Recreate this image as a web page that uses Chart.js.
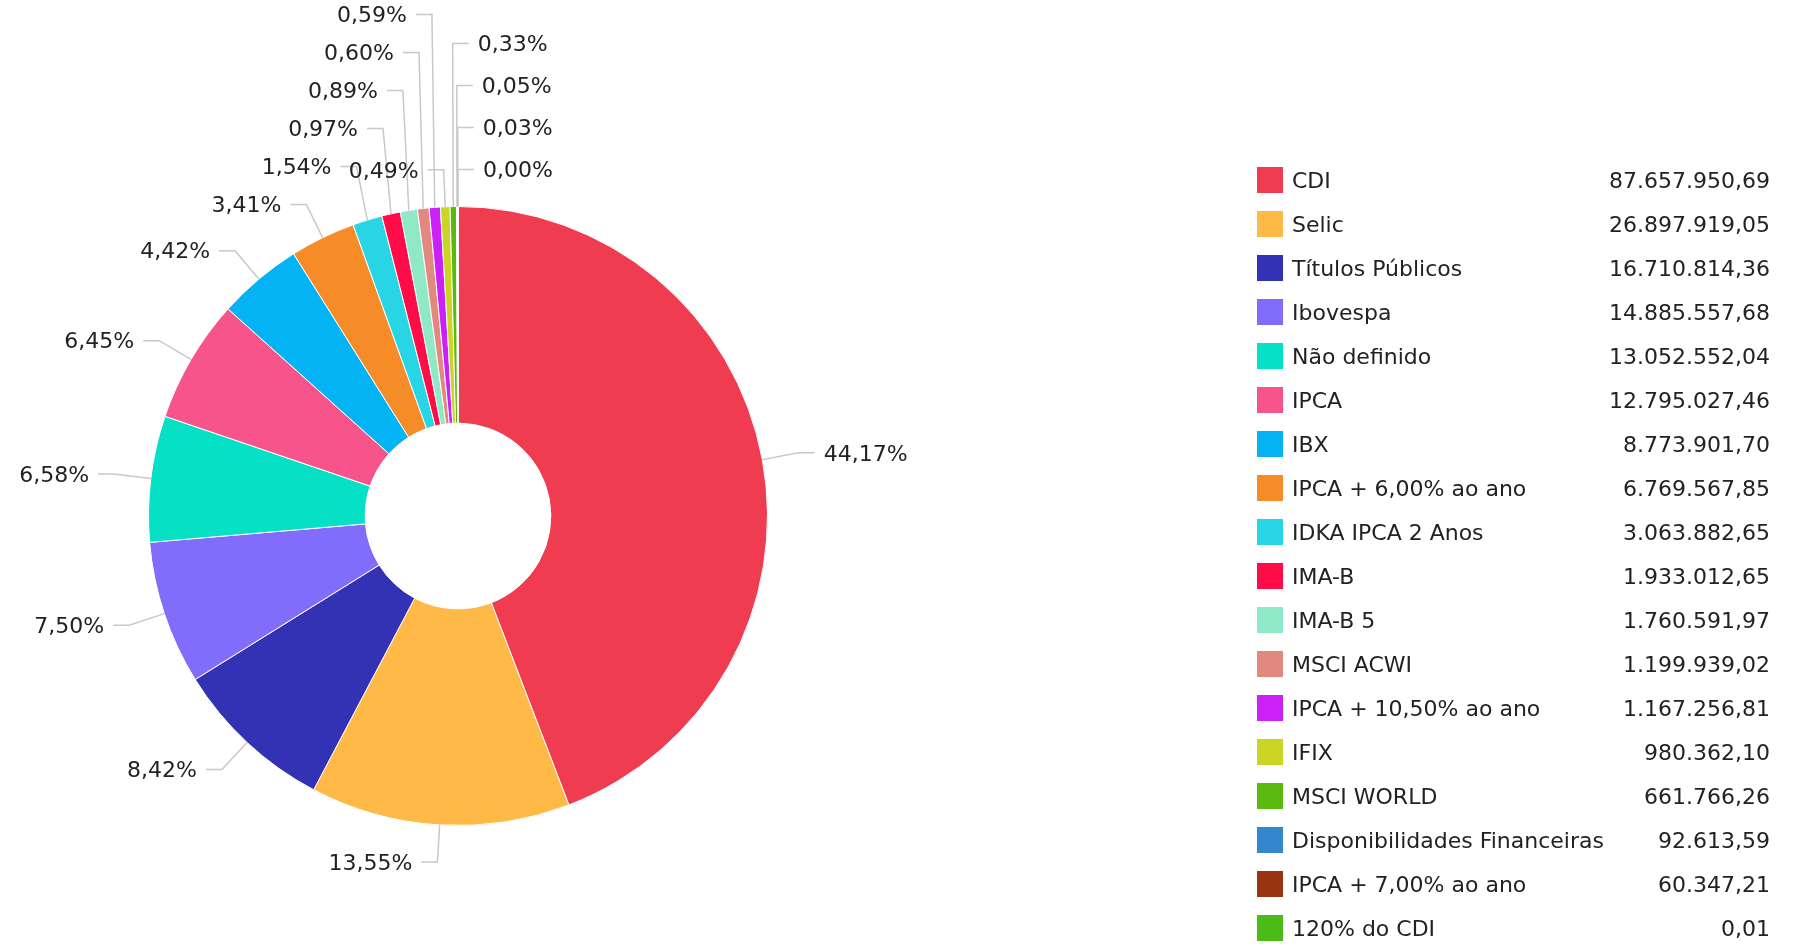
<!DOCTYPE html>
<html>
<head>
<meta charset="utf-8">
<script src="https://cdn.jsdelivr.net/npm/chart.js@4"></script>
<style>
    html, body { margin: 0; padding: 0; background: #fff; overflow: hidden; }
    #wrap { position: relative; width: 1799px; height: 944px; }
    #legend { position: absolute; left: 1257px; top: 158px; width: 513px; font: 22px "DejaVu Sans", Verdana, sans-serif; color: #222; }
    .row { display: flex; align-items: center; height: 44px; }
    .box { width: 26px; height: 26px; margin-right: 9px; flex: none; }
    .name { flex: 1; white-space: nowrap; }
    .val { text-align: right; white-space: nowrap; }
</style>
</head>
<body>
<div id="wrap">
    <canvas id="allocChart"></canvas>
    <div id="legend"></div>
</div>
<script>
const categories = ['CDI', 'Selic', 'Títulos Públicos', 'Ibovespa', 'Não definido', 'IPCA', 'IBX',
    'IPCA + 6,00% ao ano', 'IDKA IPCA 2 Anos', 'IMA-B', 'IMA-B 5', 'MSCI ACWI', 'IPCA + 10,50% ao ano',
    'IFIX', 'MSCI WORLD', 'Disponibilidades Financeiras', 'IPCA + 7,00% ao ano', '120% do CDI'];
const values = [87657950.69, 26897919.05, 16710814.36, 14885557.68, 13052552.04, 12795027.46, 8773901.70,
    6769567.85, 3063882.65, 1933012.65, 1760591.97, 1199939.02, 1167256.81,
    980362.10, 661766.26, 92613.59, 60347.21, 0.01];
const colors = ['#ef3c51', '#ffb946', '#3332b4', '#826cfb', '#06e1c5', '#f7548b', '#03b3f4',
    '#f58c27', '#27d5e5', '#ff0c49', '#8fe9c6', '#e3887f', '#cb20f6',
    '#cbd526', '#5bb90f', '#3387cd', '#98340f', '#4dbb17'];

const LEADER = 37, TICK = 16, GAP = 9, SIDE_TOL = 8, PAD = 8;
const ROW_LEFT = 38, ROW_RIGHT = 42;
const FONT = '22px "DejaVu Sans", Verdana, sans-serif';

function fmtPct(p) {
    return p.toFixed(2).replace('.', ',') + '%';
}

function fmtMoney(v) {
    const parts = v.toFixed(2).split('.');
    return parts[0].replace(/\B(?=(\d{3})+(?!\d))/g, '.') + ',' + parts[1];
}

// percentage labels outside the ring, stacked when they collide
const outsideLabels = {
    id: 'outsideLabels',
    afterDatasetsDraw(chart) {
        const ctx = chart.ctx;
        const arcs = chart.getDatasetMeta(0).data;
        const data = chart.data.datasets[0].data;
        const total = data.reduce((a, b) => a + b, 0);
        ctx.save();
        ctx.font = FONT;

        const items = arcs.map((arc, i) => {
            const p = arc.getProps(['x', 'y', 'startAngle', 'endAngle', 'outerRadius'], true);
            const mid = (p.startAngle + p.endAngle) / 2;
            const cos = Math.cos(mid), sin = Math.sin(mid);
            const ex = p.x + cos * (p.outerRadius + LEADER);
            const text = fmtPct(data[i] / total * 100);
            return {
                cy: p.y,
                ax: p.x + cos * p.outerRadius,
                ay: p.y + sin * p.outerRadius,
                ex: ex,
                ey: p.y + sin * (p.outerRadius + LEADER),
                right: ex >= p.x - SIDE_TOL,
                text: text,
                w: ctx.measureText(text).width
            };
        });

        const placed = [];
        const left = items.filter(it => !it.right);
        const right = items.filter(it => it.right).reverse();
        left.concat(right).forEach(it => {
            const row = it.right ? ROW_RIGHT : ROW_LEFT;
            it.x0 = it.right ? it.ex + TICK + GAP : it.ex - TICK - GAP - it.w;
            it.x1 = it.x0 + it.w;
            let moved = true;
            while (moved) {
                moved = false;
                placed.forEach(p => {
                    if (p.x0 - PAD < it.x1 && it.x0 < p.x1 + PAD && Math.abs(p.ey - it.ey) < row - 0.01) {
                        it.ey = it.ey < it.cy ? p.ey - row : p.ey + row;
                        moved = true;
                    }
                });
            }
            placed.push(it);
        });

        ctx.strokeStyle = '#c8c8c8';
        ctx.lineWidth = 1.5;
        ctx.fillStyle = '#222';
        ctx.textBaseline = 'middle';
        ctx.textAlign = 'left';
        items.forEach(it => {
            const hx = it.right ? it.ex + TICK : it.ex - TICK;
            ctx.beginPath();
            ctx.moveTo(it.ax, it.ay);
            ctx.lineTo(it.ex, it.ey);
            ctx.lineTo(hx, it.ey);
            ctx.stroke();
            ctx.fillText(it.text, it.x0, it.ey + 2);
        });
        ctx.restore();
    }
};

const chart = new Chart(document.getElementById('allocChart'), {
    type: 'doughnut',
    data: {
        labels: categories,
        datasets: [{
            data: values,
            backgroundColor: colors,
            borderColor: '#ffffff',
            borderWidth: 1
        }]
    },
    options: {
        responsive: true,
        maintainAspectRatio: false,
        animation: false,
        events: [],
        cutout: '30%',
        layout: {
            padding: { left: 148, right: 1031, top: 206, bottom: 118 }
        },
        plugins: {
            legend: { display: false },
            tooltip: { enabled: false }
        }
    },
    plugins: [outsideLabels]
});

// legend with values
const legend = document.getElementById('legend');
categories.forEach((name, i) => {
    const row = document.createElement('div');
    row.className = 'row';
    row.innerHTML = '<span class="box" style="background:' + colors[i] + '"></span>' +
        '<span class="name">' + name + '</span>' +
        '<span class="val">' + fmtMoney(values[i]) + '</span>';
    legend.appendChild(row);
});
</script>
</body>
</html>
